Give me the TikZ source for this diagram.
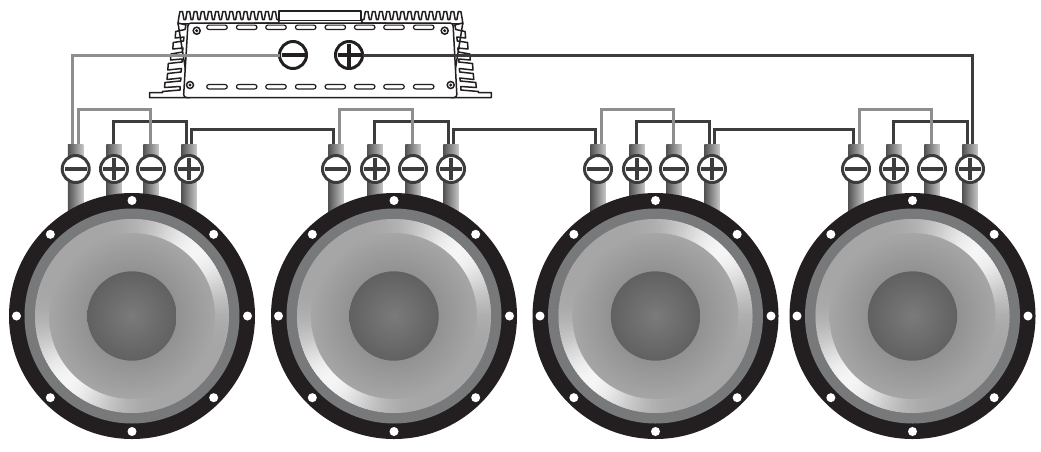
\documentclass[tikz,border=0pt]{standalone}
\usetikzlibrary{calc}
\definecolor{ink}{HTML}{231F20}
\definecolor{wiredark}{HTML}{3D3C3D}
\definecolor{wiregrey}{HTML}{8D8E90}
\definecolor{ringgrey}{HTML}{77797B}
\tikzset{
  ampline/.style={draw=ink,line width=1.5pt,fill=white,line join=round},
  wd/.style={draw=wiredark,line width=3pt},
  wg/.style={draw=wiregrey,line width=3pt},
  post/.style={rectangle,inner sep=0pt,minimum width=15.5pt,minimum height=68pt,left color=black!68,right color=black!22},
  term/.style={circle,draw=wiredark,line width=3pt,fill=white,inner sep=0pt,outer sep=0pt,minimum size=27pt},
  termbar/.style={draw=wiredark,line width=4pt},
  ampterm/.style={circle,draw=ink,line width=3pt,fill=white,inner sep=0pt,outer sep=0pt,minimum size=27pt},
  ampbar/.style={draw=ink,line width=3.6pt},
  disc/.style={circle,inner sep=0pt,outer sep=0pt,minimum size=#1*2pt},
  slotbox/.style={rectangle,rounded corners=2.2pt,draw=ink,line width=1.2pt,fill=white,inner sep=0pt,minimum width=20.5pt,minimum height=4.4pt},
  screw/.style={circle,draw=ink,line width=1.5pt,fill=white,inner sep=0pt,minimum size=7pt},
  screwdot/.style={circle,fill=ink,inner sep=0pt,minimum size=3.4pt},
}
\newcommand{\ampside}{%
  \path[ampline] (178,24) -- (178.5,19.5)
    \foreach \k in {1,...,14}{ -- ++(1.4,-8) -- ++(2.6,0) -- ++(1.4,8) -- ++(1.75,0) }
    -- (279,23) -- cycle;
  \path[ampline] (178,23) -- (186,25) -- (185,29.5) -- (175.7,31.5) -- (175.2,38) -- (184,37)
    -- (183.5,41) -- (173.3,42.5) -- (172.8,49) -- (183,48)
    -- (182.5,52) -- (171,54) -- (170.5,60) -- (182,59)
    -- (182,62) -- (168.3,63.5) -- (167.8,70) -- (181.5,68.5)
    -- (181,72) -- (167.6,73.5) -- (167,79.5) -- (181,78)
    -- (180.5,81) -- (165,82.5) -- (164.5,87.5) -- (180,86.5)
    -- (180,90) -- (162.5,91.5) -- (162.5,92.5) -- (149.5,92.5) -- (149.5,97.5) -- (190,97.5) -- cycle;
}
\begin{document}
\begin{tikzpicture}[x=1pt,y=-1pt]
\useasboundingbox (0,0) rectangle (1041,451);
% amplifier
\ampside
\begin{scope}[xshift=640.8pt,xscale=-1]
\ampside
\end{scope}
\path[ampline] (279,11) rectangle (361,20.5);
\path[ampline,rounded corners=3pt] (188,23) -- (453,23) -- (457,97.5) -- (183.5,97.5) -- cycle;
\foreach \k/\sx in {1/217,2/246.7,3/276,4/305.7,5/335.3,6/364.7,7/394,8/423.7}{
  \node[slotbox] (slotT\k) at (\sx,27.3) {};
  \node[slotbox] (slotB\k) at (\sx,86.7) {};
}
\foreach \k/\sx/\sy in {1/196.7/30.7,2/444.7/30.7,3/190/85,4/450.7/85}{
  \node[screw] (screw\k) at (\sx,\sy) {};
  \node[screwdot] (screwdot\k) at (\sx,\sy) {};
}
\node[ampterm] (ampminus) at (293,55) {};
\node[ampterm] (ampplus) at (349,55) {};
\draw[ampbar] ($(ampminus)+(-11.5,0)$) -- ($(ampminus)+(11.5,0)$);
\draw[ampbar] ($(ampplus)+(-11.5,0)$) -- ($(ampplus)+(11.5,0)$);
\draw[ampbar] ($(ampplus)+(0,-11.5)$) -- ($(ampplus)+(0,11.5)$);
% wire ends
\foreach \i/\xa/\xb/\xc/\xd in {1/75.7/114/151/189,2/336/375/413/451,3/598/637/674/712,4/856/894/932/970}{
  \coordinate (a\i L) at (\xa-3,145);
  \coordinate (a\i R) at (\xa+3.2,145);
  \coordinate (b\i) at (\xb-0.5,145);
  \coordinate (c\i) at (\xc-1,145);
  \coordinate (d\i L) at (\xd-3,145);
  \coordinate (d\i R) at (\xd+2,145);
}
% wires
\foreach \i in {1,2,3,4}{
  \draw[wd] (b\i) -- ++(0,-23.5) -| (d\i L);
}
\foreach \i/\j in {1/2,2/3,3/4}{
  \draw[wd] (d\i R) -- ++(0,-16) -| (a\j L);
}
\draw[wd] (ampplus.east) -| (d4R);
\foreach \i in {1,2,3,4}{
  \draw[wg] (a\i R) -- ++(0,-36) -| (c\i);
}
\draw[wg] (a1L) |- (ampminus.west);
% terminals and posts
\foreach \i/\xa/\xb/\xc/\xd in {1/75.7/114/151/189,2/336/375/413/451,3/598/637/674/712,4/856/894/932/970}{
  \node[post] (pa\i) at (\xa,178) {};
  \node[post] (pb\i) at (\xb,178) {};
  \node[post] (pc\i) at (\xc,178) {};
  \node[post] (pd\i) at (\xd,178) {};
  \node[term] (ta\i) at (\xa,169) {};
  \node[term] (tb\i) at (\xb,169) {};
  \node[term] (tc\i) at (\xc,169) {};
  \node[term] (td\i) at (\xd,169) {};
  \foreach \t in {ta\i,tb\i,tc\i,td\i}{
    \draw[termbar] ($(\t)+(-11,0)$) -- ($(\t)+(11,0)$);
  }
  \foreach \t in {tb\i,td\i}{
    \draw[termbar] ($(\t)+(0,-11)$) -- ($(\t)+(0,11)$);
  }
}
% speakers
\foreach \i/\cx in {1/132,2/394,3/655.5,4/912.5}{
  \node[disc=123,fill=ink] (frame\i) at (\cx,316) {};
  \node[disc=107.5,fill=ringgrey] (ring\i) at (\cx,316) {};
  \begin{scope}
    \clip (\cx,316) circle[radius=97];
    \foreach \n in {0,...,179}{
      \pgfmathsetmacro\ta{\n*2}
      \pgfmathsetmacro\tb{\n*2+3}
      \pgfmathsetmacro\cc{cos(\n*2+1-45)}
      \pgfmathsetmacro\gg{0.65+0.31*\cc*\cc*\cc*\cc*\cc*\cc}
      \definecolor{wedgecol}{gray}{\gg}
      \fill[wedgecol] (\cx,316) -- ({\cx+105*cos(\ta)},{316-105*sin(\ta)}) -- ({\cx+105*cos(\tb)},{316-105*sin(\tb)}) -- cycle;
    }
  \end{scope}
  \node[disc=83,inner color=black!52,outer color=black!35] (cone\i) at (\cx,316) {};
  \node[disc=44.7,inner color=black!52,outer color=black!62] (cap\i) at (\cx,316) {};
  \foreach \k in {0,...,7}{
    \node[disc=4.5,fill=white] (hole\i-\k) at ({\cx+115.5*cos(45*\k)},{316-115.5*sin(45*\k)}) {};
  }
}
\end{tikzpicture}
\end{document}
